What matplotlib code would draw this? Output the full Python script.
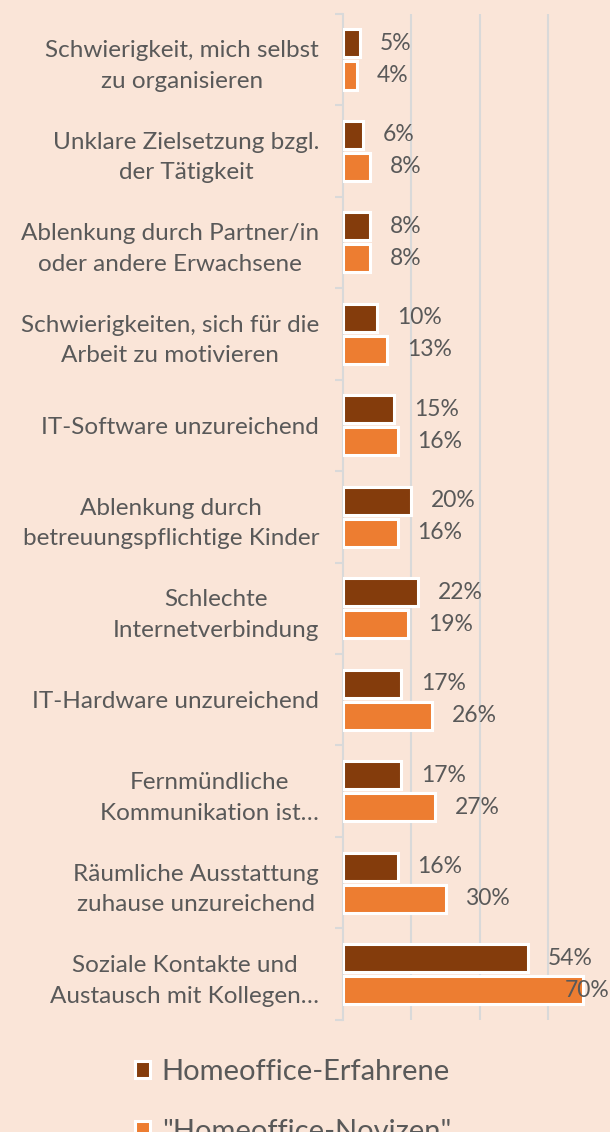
import matplotlib.pyplot as plt
import numpy as np

# data
categories = [
    "Schwierigkeit, mich selbst\nzu organisieren",
    "Unklare Zielsetzung bzgl.\nder Tätigkeit",
    "Ablenkung durch Partner/in\noder andere Erwachsene",
    "Schwierigkeiten, sich für die\nArbeit zu motivieren",
    "IT-Software unzureichend",
    "Ablenkung durch\nbetreuungspflichtige Kinder",
    "Schlechte\nInternetverbindung",
    "IT-Hardware unzureichend",
    "Fernmündliche\nKommunikation ist…",
    "Räumliche Ausstattung\nzuhause unzureichend",
    "Soziale Kontakte und\nAustausch mit Kollegen…",
]
erfahrene = [5, 6, 8, 10, 15, 20, 22, 17, 17, 16, 54]
novizen = [4, 8, 8, 13, 16, 16, 19, 26, 27, 30, 70]
series_names = ["Homeoffice-Erfahrene", '"Homeoffice-Novizen"']

bg = "#FAE5D8"
dark = "#843C0C"
orange = "#ED7D31"
txt = "#595959"
grid = "#D9D9D9"

plt.rcParams['font.family'] = ['Lato', 'DejaVu Sans']

fig = plt.figure(figsize=(6.10, 11.32), dpi=100, facecolor=bg)
ax = fig.add_axes([0.562, 0.099, 0.438, 0.889], facecolor=bg)

xmax = 78
y = np.arange(len(categories))
h = 0.31
off = 0.175
ax.barh(y - off, erfahrene, height=h, color=dark, edgecolor="white", linewidth=2.2, zorder=3,
        label=series_names[0])
ax.barh(y + off, novizen, height=h, color=orange, edgecolor="white", linewidth=2.2, zorder=3,
        label=series_names[1])

# value labels (pushed inside the axes when they would overflow, like Excel does)
for vals, dy in [(erfahrene, -off), (novizen, off)]:
    for yi, v in zip(y, vals):
        if v + 5.8 + 13 > xmax:
            ax.text(xmax, yi + dy, f"{v}%", va="center", ha="right", fontsize=16.5, color=txt, zorder=4)
        else:
            ax.text(v + 5.8, yi + dy, f"{v}%", va="center", ha="left", fontsize=16.5, color=txt, zorder=4)

ax.set_xlim(0, xmax)
ax.set_ylim(len(categories) - 0.5, -0.5)
ax.set_xticks([20, 40, 60])
ax.tick_params(axis="x", length=0, labelbottom=False)
ax.grid(axis="x", color=grid, linewidth=1.5, zorder=0)

ax.set_yticks(y)
ax.set_yticklabels(categories, fontsize=17.5, color=txt, linespacing=1.55)
ax.set_yticks(np.arange(len(categories) + 1) - 0.5, minor=True)
ax.tick_params(axis="y", which="major", length=0, pad=17)
ax.tick_params(axis="y", which="minor", length=6, width=1.5, color=grid)
for lbl in ax.get_yticklabels():
    lbl.set_multialignment("center")

for s in ["top", "right", "bottom"]:
    ax.spines[s].set_visible(False)
ax.spines["left"].set_color(grid)
ax.spines["left"].set_linewidth(1.5)

leg = fig.legend(loc="upper left", bbox_to_anchor=(0.222, 0.0645), frameon=False,
                 fontsize=21, labelcolor=txt, handlelength=0.5, handleheight=0.5,
                 handletextpad=0.4, labelspacing=1.15, borderpad=0, borderaxespad=0)

fig.savefig("out.png", dpi=100, facecolor=bg)
